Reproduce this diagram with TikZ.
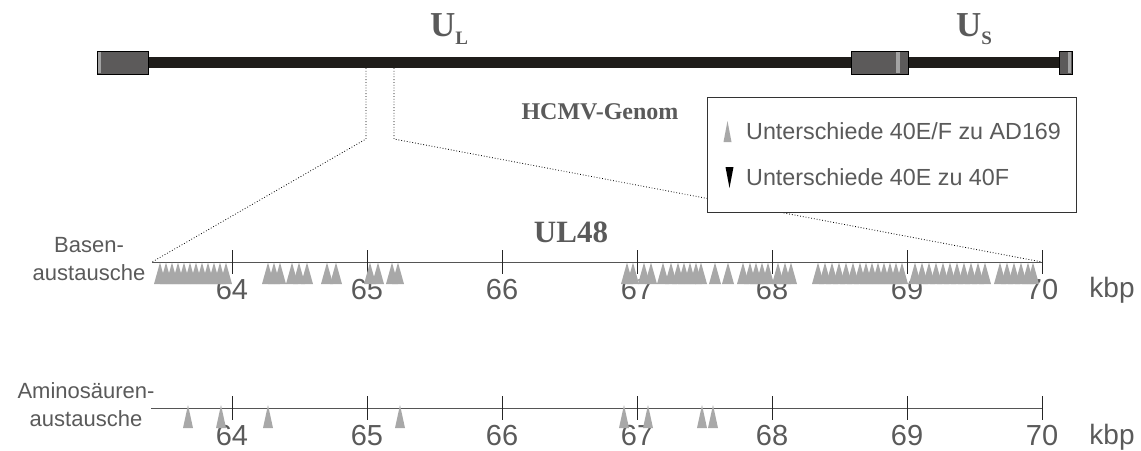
\documentclass[tikz,border=0pt]{standalone}
\usepackage{fontspec}
\setmainfont{Liberation Sans}
\newfontfamily\titlefont{Liberation Serif}
\definecolor{txtgray}{HTML}{5A5A5A}
\definecolor{trigray}{HTML}{A8A8A8}
\definecolor{barblack}{HTML}{1F1D1A}
\definecolor{boxgray}{HTML}{5C5A5A}
\definecolor{stripegray}{HTML}{A3A3A3}
\definecolor{axisgray}{HTML}{555555}
\tikzset{
  sanslabel/.style={text=txtgray, font=\fontsize{#1}{#1}\selectfont, inner sep=0pt},
  titlelabel/.style={text=txtgray, font=\titlefont\bfseries\fontsize{#1}{#1}\selectfont, inner sep=0pt},
  genbox/.style={fill=boxgray, draw=black, line width=0.8pt},
  stripe/.style={fill=stripegray},
  dotline/.style={black, dotted, line width=0.8pt},
  axisline/.style={axisgray, line width=1pt},
  tickline/.style={black!85, line width=0.9pt},
  legendbox/.style={draw=black!80, fill=white, line width=0.9pt, minimum width=369pt, minimum height=115pt, inner sep=0pt},
}
\begin{document}
\begin{tikzpicture}[x=1pt,y=-1pt]
\useasboundingbox (0,0) rectangle (1141,450);
% genome
\fill[barblack] (148,57) rectangle (1060,68);
\draw[genbox] (97,51) rectangle (148,74);
\fill[stripe] (97.6,51.6) rectangle (101,73.4);
\draw[genbox] (851,51) rectangle (908,74);
\fill[stripe] (896,51.6) rectangle (900,73.4);
\draw[genbox] (1059,51) rectangle (1072,74);
\fill[stripe] (1067.5,51.6) rectangle (1070.5,73.4);
\node[titlelabel=35, anchor=base] (UL) at (449,36) {U\raisebox{-8pt}{\fontsize{19}{19}\selectfont L}};
\node[titlelabel=35, anchor=base] (US) at (974,36) {U\raisebox{-8pt}{\fontsize{19}{19}\selectfont S}};
\node[titlelabel=24] (hcmv) at (600,112) {HCMV-Genom};
% dotted zoom lines
\coordinate (cutL) at (366,68);
\coordinate (cutR) at (394,68);
\coordinate (bendL) at (366,139);
\coordinate (bendR) at (394,139);
\coordinate (a1s) at (152,262);
\coordinate (a1e) at (1042,262);
\coordinate (a2s) at (151,408);
\coordinate (a2e) at (1042,408);
\draw[dotline] (cutL) -- (bendL) -- (a1s);
\draw[dotline] (cutR) -- (bendR) -- (a1e);
% legend
\node[legendbox] (legend) at (891.5,154.5) {};
\fill[trigray] (723.5,142) -- (727.5,121) -- (731.5,142) -- cycle;
\node[sanslabel=23.3, anchor=west] (leg1) at (746,131) {Unterschiede 40E/F zu AD169};
\fill[black] (725.5,167) -- (733.5,167) -- (729.5,188) -- cycle;
\node[sanslabel=23.3, anchor=west] (leg2) at (746,177) {Unterschiede 40E zu 40F};
% UL48
\node[titlelabel=31] (ul48) at (571,232) {UL48};
% row labels
\node[sanslabel=22, align=center] (basen) at (89,259) {Basen-\\[6pt]austausche};
\node[sanslabel=22, align=center] (amino) at (86,405) {Aminosäuren-\\[6pt]austausche};
% axes
\draw[axisline] (a1s) -- (a1e);
\draw[axisline] (a2s) -- (a2e);
\foreach \k [count=\i from 0] in {64,...,70}{
  \pgfmathsetmacro{\xx}{232+135*\i}
  \draw[tickline] (\xx,250) -- (\xx,274);
  \node[sanslabel=29] (t1-\k) at (\xx,290) {\k};
  \draw[tickline] (\xx,396) -- (\xx,420);
  \node[sanslabel=29] (t2-\k) at (\xx,436) {\k};
}
\node[sanslabel=28] (kbp1) at (1112,290) {kbp};
\node[sanslabel=28] (kbp2) at (1112,437) {kbp};
% triangles row 1
\foreach \x in {160,166,172,178,184,190,196,202,208,214,220,226,
  268,274,280,292,299,307,327,336,370,378,392,398,
  627,633,644,651,663,671,678,684,690,696,701,715,728,743,750,756,762,768,778,785,791,
  818,825,832,839,846,853,860,866,872,878,884,890,896,902,915,922,929,936,943,950,957,964,971,978,985,1000,1007,1014,1021,1028,1033}{
  \fill[trigray] (\x-6,284) -- (\x,262.5) -- (\x+6,284) -- cycle;
}
% triangles row 2
\foreach \x in {188,221,268,400,624,648,702,713}{
  \fill[trigray] (\x-5,428) -- (\x,405) -- (\x+5,428) -- cycle;
}
\end{tikzpicture}
\end{document}
